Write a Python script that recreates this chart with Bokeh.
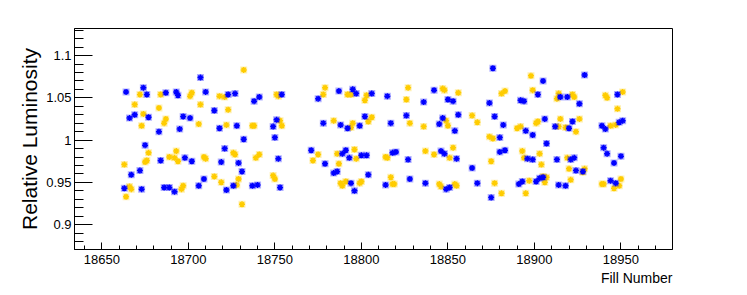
from bokeh.plotting import figure
from bokeh.models import Range1d, FixedTicker, NumeralTickFormatter, Title
from bokeh.embed import file_html
from bokeh.resources import INLINE

# ---- data ----
blue_fill = [
    18664, 18674, 18676, 18687, 18693, 18694, 18669, 18666, 18677, 18683, 18695, 18675, 18684, 18672, 18667, 18663, 18673, 18686, 18689, 18692,
    18707, 18710, 18723, 18727, 18741, 18738, 18715, 18697, 18701, 18718, 18728, 18732, 18721, 18698, 18702, 18719, 18729, 18731, 18709, 18706, 18726, 18722, 18737, 18740,
    18754, 18751, 18749, 18750, 18752, 18753, 18775, 18787, 18795, 18797, 18778, 18788, 18792, 18799, 18771, 18779, 18791, 18789, 18793, 18786, 18784, 18794, 18796,
    18806, 18815, 18836, 18842, 18850, 18802, 18817, 18826, 18845, 18847, 18800, 18803, 18818, 18820, 18827, 18846, 18848, 18804, 18814, 18828, 18837, 18849, 18851,
    18876, 18853, 18874, 18892, 18894, 18902, 18856, 18877, 18854, 18882, 18880, 18895, 18899, 18855, 18880, 18883, 18896, 18899, 18864, 18867, 18875, 18891, 18893, 18901, 18903,
    18905, 18929, 18915, 18919, 18926, 18948, 18906, 18912, 18920, 18922, 18939, 18941, 18949, 18951, 18907, 18940, 18942, 18950, 18946, 18913, 18921, 18923, 18924, 18928, 18905, 18914, 18918, 18944, 18947,
]
blue_lumi = [
    1.057, 1.062, 1.054, 1.056, 1.057, 1.053, 1.030, 1.026, 1.027, 1.010, 1.013, 0.994, 0.976, 0.964, 0.959, 0.943, 0.942, 0.944, 0.944, 0.939,
    1.074, 1.057, 1.054, 1.055, 1.051, 1.046, 1.035, 1.028, 1.026, 1.014, 1.017, 1.001, 0.990, 0.979, 0.975, 0.974, 0.973, 0.963, 0.954, 0.946, 0.946, 0.941, 0.946, 0.947,
    1.054, 1.024, 1.016, 1.003, 0.978, 0.944, 1.049, 1.058, 1.060, 1.055, 1.020, 1.018, 1.014, 1.017, 0.988, 0.972, 0.988, 0.984, 0.979, 0.963, 0.961, 0.949, 0.940,
    1.055, 1.052, 1.045, 1.059, 1.048, 1.028, 1.020, 1.029, 1.019, 1.026, 0.982, 0.982, 0.985, 0.986, 0.977, 0.987, 0.984, 0.959, 0.947, 0.954, 0.949, 0.942, 0.944,
    1.085, 1.046, 1.044, 1.047, 1.046, 1.054, 1.030, 1.028, 1.011, 1.018, 1.003, 1.011, 1.006, 0.978, 0.986, 0.988, 0.978, 0.977, 0.967, 0.949, 0.932, 0.948, 0.951, 0.951, 0.955,
    1.070, 1.077, 1.051, 1.051, 1.043, 1.054, 1.025, 1.016, 1.014, 1.022, 1.017, 1.013, 1.021, 1.023, 0.996, 0.991, 0.984, 0.981, 0.973, 0.977, 0.977, 0.979, 0.964, 0.963, 0.956, 0.947, 0.946, 0.952, 0.949,
]
gold_fill = [
    18672, 18684, 18669, 18683, 18674, 18687, 18686, 18673, 18677, 18693, 18676, 18675, 18689, 18692, 18694, 18663, 18666, 18667, 18664,
    18732, 18702, 18701, 18718, 18721, 18707, 18723, 18706, 18722, 18737, 18738, 18709, 18710, 18726, 18727, 18741, 18739, 18715, 18719, 18729, 18728, 18697, 18696, 18731,
    18751, 18752, 18779, 18778, 18792, 18794, 18753, 18754, 18784, 18795, 18794, 18775, 18772, 18786, 18796, 18797, 18787, 18749, 18750, 18788, 18789, 18791, 18799, 18800,
    18827, 18847, 18848, 18803, 18802, 18826, 18806, 18804, 18828, 18836, 18849, 18850, 18814, 18815, 18837, 18842, 18851, 18817, 18818, 18819, 18845, 18846,
    18898, 18856, 18881, 18883, 18899, 18864, 18867, 18874, 18876, 18890, 18892, 18901, 18902, 18853, 18875, 18893, 18894, 18904, 18854, 18855, 18877, 18881, 18897, 18895,
    18914, 18913, 18922, 18923, 18941, 18942, 18951, 18948, 18915, 18914, 18918, 18926, 18924, 18944, 18947, 18903, 18919, 18920, 18929, 18928, 18905, 18907, 18906, 18921, 18939, 18940, 18950, 18949, 18946,
]
gold_lumi = [
    1.054, 1.054, 1.042, 1.038, 1.031, 1.025, 1.020, 1.017, 0.985, 0.987, 0.976, 0.974, 0.980, 0.979, 0.975, 0.971, 0.945, 0.942, 0.933,
    1.083, 1.056, 1.052, 1.052, 1.051, 1.042, 1.036, 1.019, 1.018, 1.017, 1.017, 0.980, 0.978, 0.985, 0.983, 0.983, 0.979, 0.957, 0.950, 0.954, 0.947, 0.946, 0.942, 0.924,
    1.054, 1.052, 1.062, 1.054, 1.054, 1.054, 1.023, 1.017, 1.023, 1.020, 1.015, 0.983, 0.976, 0.984, 0.989, 0.978, 0.972, 0.958, 0.954, 0.949, 0.946, 0.951, 0.949, 0.951,
    1.062, 1.061, 1.059, 1.053, 1.047, 1.048, 1.027, 1.022, 1.020, 1.016, 1.023, 1.017, 0.980, 0.979, 0.987, 0.983, 0.979, 0.956, 0.948, 0.948, 0.948, 0.945,
    1.076, 1.056, 1.055, 1.058, 1.059, 1.029, 1.021, 1.004, 1.002, 1.014, 1.016, 1.020, 1.022, 0.991, 0.975, 0.987, 0.979, 0.971, 0.948, 0.946, 0.949, 0.937, 0.952, 0.937,
    1.055, 1.049, 1.054, 1.051, 1.053, 1.050, 1.057, 1.037, 1.025, 1.016, 1.015, 1.025, 1.010, 1.017, 1.018, 0.984, 0.979, 0.966, 0.966, 0.962, 0.957, 0.956, 0.950, 0.953, 0.948, 0.948, 0.954, 0.946, 0.943,
]
x_ticks = [18650, 18700, 18750, 18800, 18850, 18900, 18950]
y_ticks = [0.9, 0.95, 1.0, 1.05, 1.1]
x_title = "Fill Number"
y_title = "Relative Luminosity"

BLUE = "#0000ff"
GOLD = "#ffcc00"
FONT = "Liberation Sans"

x_min, x_max = 18634.2, 18979.8
y_min, y_max = 0.8706, 1.132

p = figure(width=739, height=287, output_backend="svg", toolbar_location=None,
           x_range=Range1d(x_min, x_max), y_range=Range1d(y_min, y_max),
           min_border_left=74, min_border_right=67, min_border_top=28, min_border_bottom=37)
p.background_fill_color = "white"
p.border_fill_color = "white"
p.outline_line_color = "black"
p.outline_line_width = 1
p.grid.visible = False

x_minor = [18640 + 10 * i for i in range(34)]
y_minor = [round(0.88 + 0.01 * i, 2) for i in range(26)]
p.xaxis.ticker = FixedTicker(ticks=x_ticks, minor_ticks=x_minor)
p.yaxis.ticker = FixedTicker(ticks=y_ticks, minor_ticks=y_minor)
p.yaxis.formatter = NumeralTickFormatter(format="0.[00]")

for ax in (p.xaxis[0], p.yaxis[0]):
    ax.axis_line_color = "black"
    ax.major_tick_line_color = "black"
    ax.minor_tick_line_color = "black"
    ax.major_tick_out = 0
    ax.minor_tick_out = 0
    ax.major_label_text_font = FONT
    ax.major_label_text_font_size = "13px"
    ax.major_label_text_color = "black"

p.xaxis.major_tick_in = 7
p.xaxis.minor_tick_in = 4
p.xaxis.major_label_standoff = 5
p.yaxis.major_tick_in = 18
p.yaxis.minor_tick_in = 9
p.yaxis.major_label_standoff = 3

p.yaxis.axis_label = y_title
p.yaxis.axis_label_text_font = FONT
p.yaxis.axis_label_text_font_size = "21px"
p.yaxis.axis_label_text_font_style = "normal"
p.yaxis.axis_label_text_color = "black"
p.yaxis.axis_label_standoff = 2

xt = Title(text=x_title, align="right", text_font=FONT, text_font_size="14px",
           text_font_style="normal", text_color="black", standoff=3)
p.add_layout(xt, "below")

for xs, ys, col in ((gold_fill, gold_lumi, GOLD), (blue_fill, blue_lumi, BLUE)):
    p.scatter(xs, ys, marker="square", size=7, fill_color=col, fill_alpha=0.3, line_alpha=0)
    p.scatter(xs, ys, marker="asterisk", size=6, line_color=col, line_width=1.5)

open("out.html", "w").write(file_html(p, INLINE))
